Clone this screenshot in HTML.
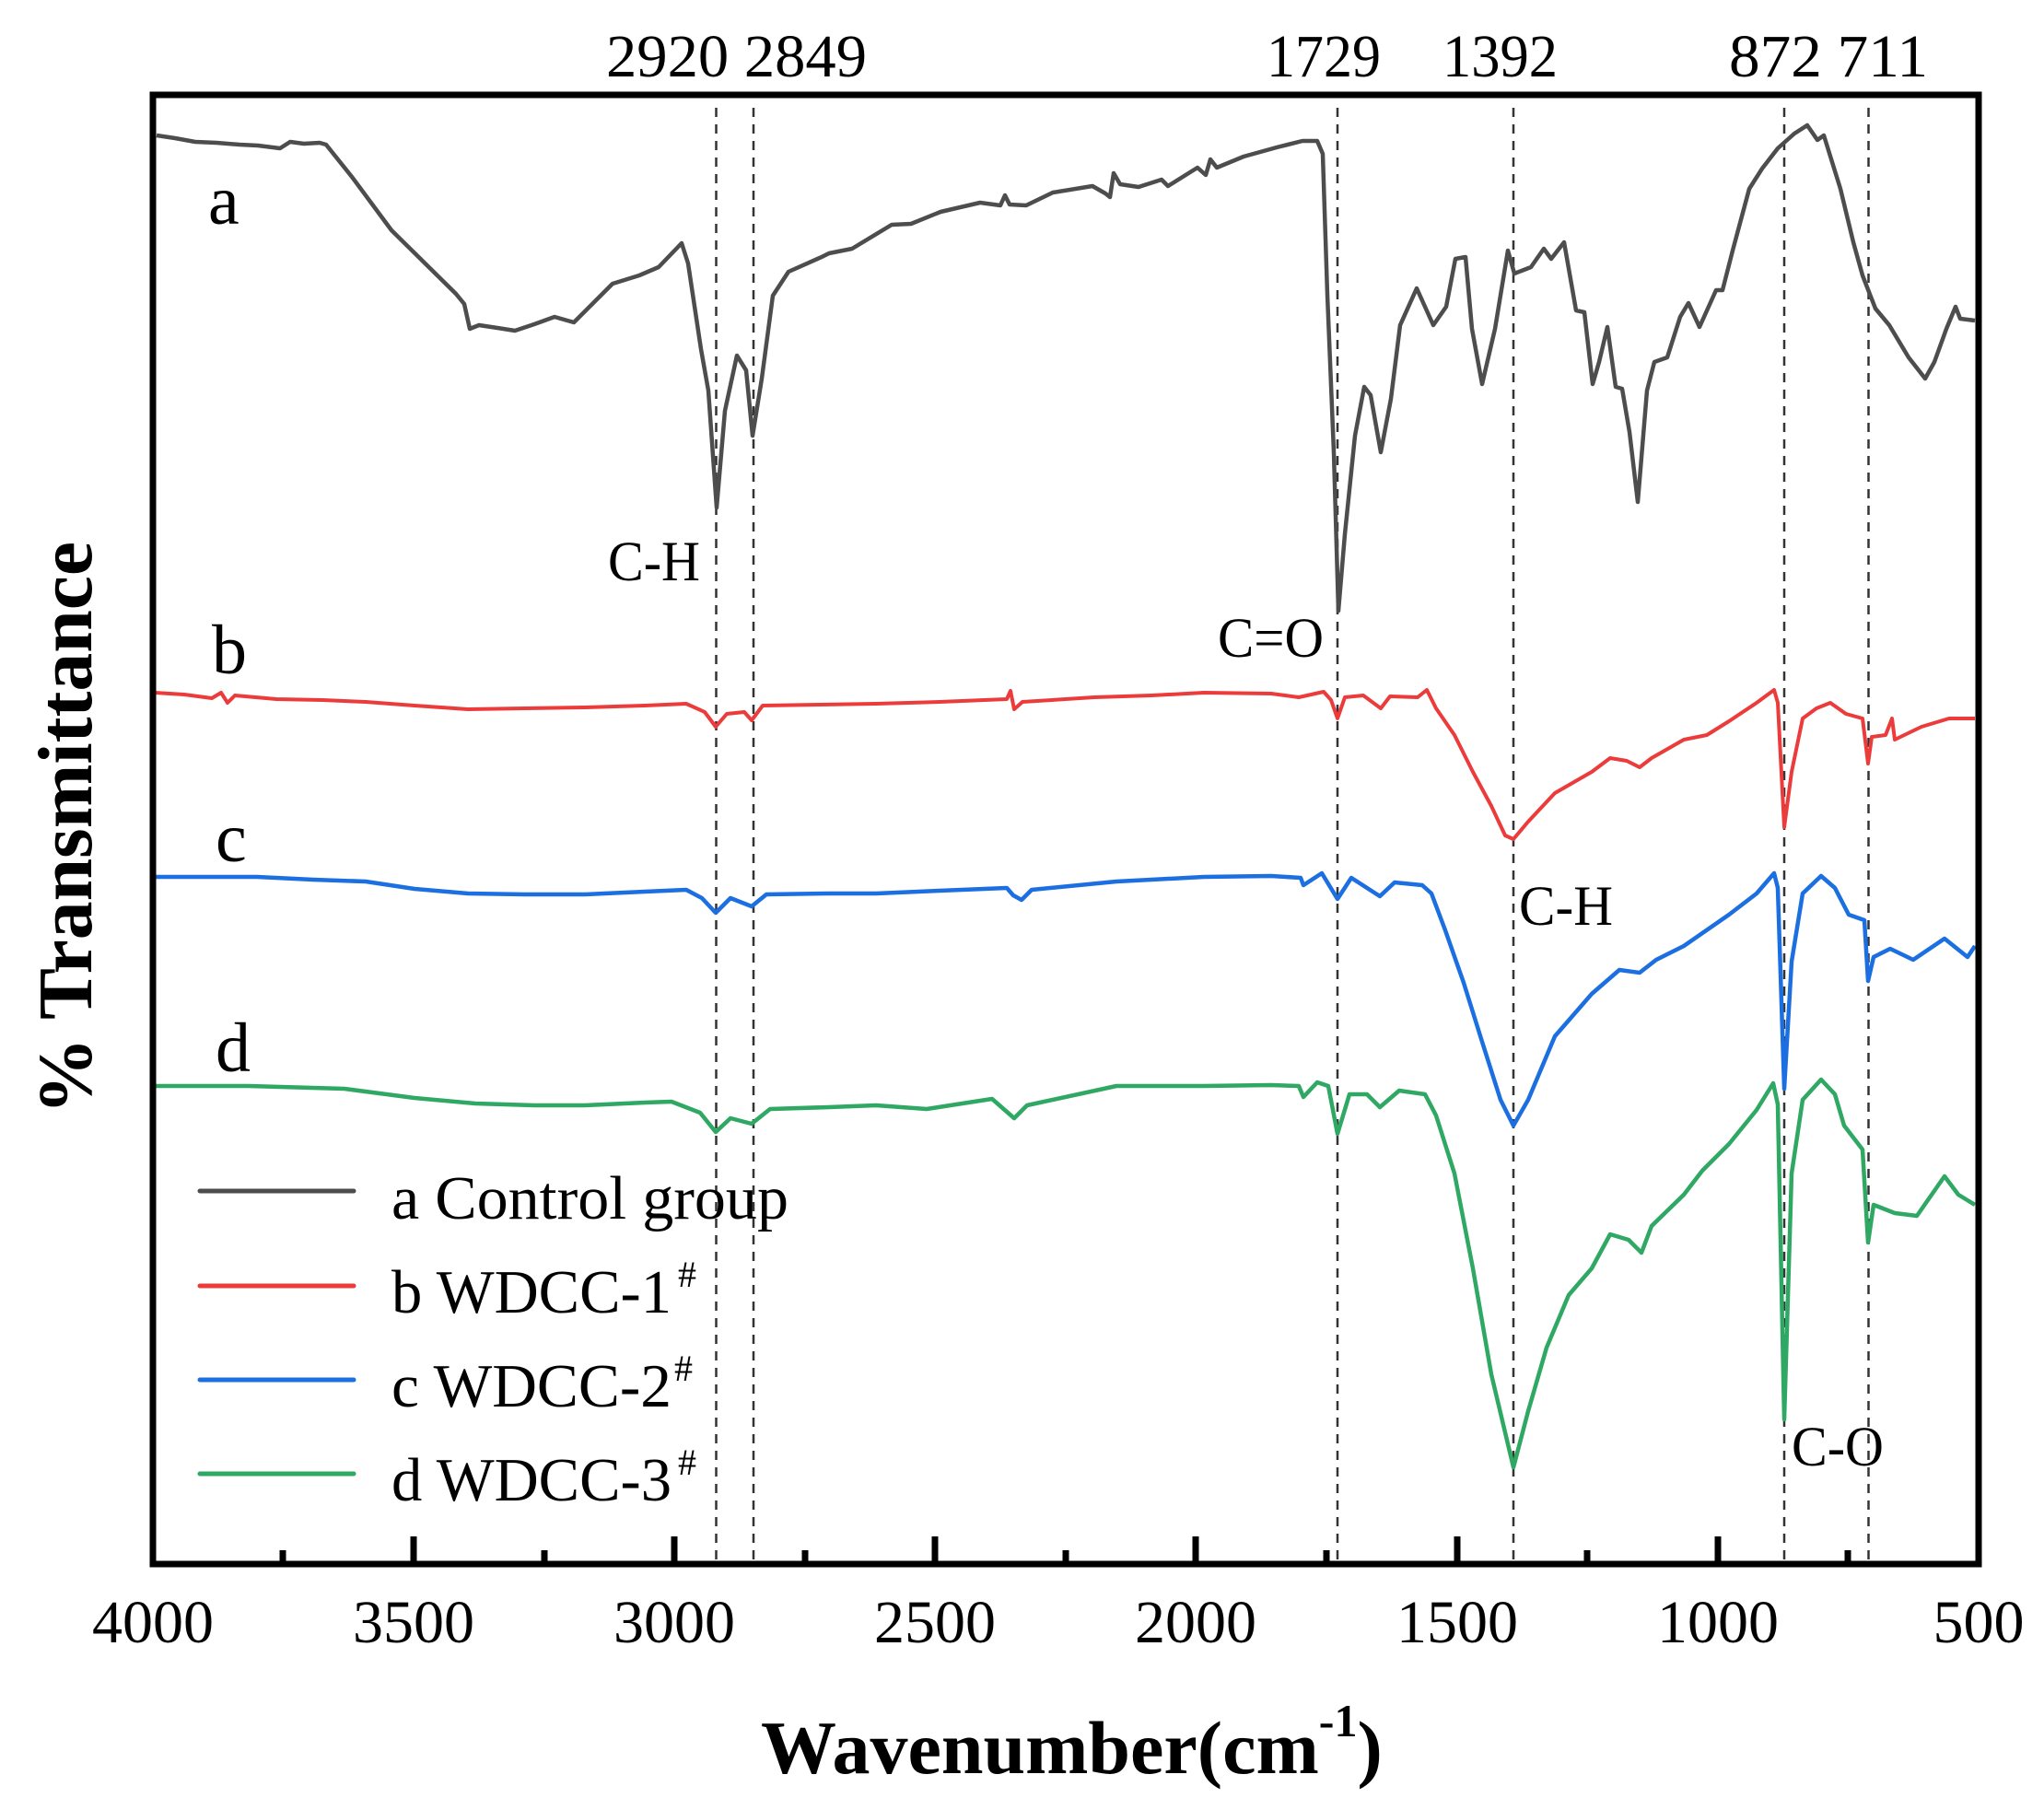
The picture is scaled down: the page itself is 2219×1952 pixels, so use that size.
<!DOCTYPE html>
<html>
<head>
<meta charset="utf-8">
<style>
html,body{margin:0;padding:0;background:#fff;}
svg{display:block;}
text{font-family:"Liberation Serif","Times New Roman",serif;fill:#000;}
</style>
</head>
<body>
<svg width="2219" height="1952" viewBox="0 0 2219 1952" xmlns="http://www.w3.org/2000/svg">
<rect x="0" y="0" width="2219" height="1952" fill="#fff"/>

<!-- dashed reference lines -->
<g stroke="#333" stroke-width="2.5" stroke-dasharray="10,8" fill="none">
<line x1="777.5" y1="117" x2="777.5" y2="1694"/>
<line x1="818" y1="117" x2="818" y2="1694"/>
<line x1="1452" y1="117" x2="1452" y2="1694"/>
<line x1="1643" y1="117" x2="1643" y2="1694"/>
<line x1="1937" y1="117" x2="1937" y2="1694"/>
<line x1="2028.5" y1="117" x2="2028.5" y2="1694"/>
</g>

<!-- curve a -->
<polyline fill="none" stroke="#4d4d4d" stroke-width="4.5" stroke-linejoin="round" points="170,147 190,150 212,154 235,155 260,157 280,158 304,161 315,154 330,156 347,155 354,157 382,192 425,250 495,319 504,330 510,357 520,353 540,356 559,359 580,352 602,344 623,350 665,308 694,299 715,290 740,264 747,286 761,379 769,424 778,551 787,446 800,386 810,402 817,473 827,411 839,321 856,295 892,279 900,275 925,270 968,244 989,243 1021,230 1064,220 1086,223 1091,212 1096,222 1114,223 1143,209 1186,202 1200,210 1205,214 1209,188 1216,200 1236,203 1261,195 1268,202 1300,182 1309,190 1314,173 1321,182 1350,170 1386,160 1414,153 1430,153 1436,167 1441,320 1448,491 1453,663 1460,580 1471,473 1481,420 1488,429 1499,491 1510,433 1520,353 1538,313 1556,353 1570,333 1580,281 1591,279 1598,357 1609,417 1623,357 1637,272 1644,297 1662,290 1676,270 1684,281 1698,263 1711,337 1720,339 1729,417 1736,393 1745,355 1754,420 1761,422 1769,469 1778,545 1788,424 1796,393 1810,388 1824,344 1833,329 1845,355 1863,315 1870,315 1881,272 1899,205 1913,183 1930,161 1948,145 1962,136 1973,152 1980,147 1998,205 2012,263 2022,299 2036,335 2051,353 2072,388 2090,411 2100,393 2113,357 2123,333 2128,346 2144,348"/>

<!-- curve b -->
<polyline fill="none" stroke="#ec3b3b" stroke-width="4" stroke-linejoin="round" points="168,752 200,754 230,758 240,752 247,763 255,755 300,759 350,760 397,762 450,766 508,770 570,769 634,768 700,766 745,764 765,773 777,789 789,775 808,773 816,782 828,766 890,765 951,764 1020,762 1093,759 1097,750 1101,770 1110,762 1188,757 1250,755 1307,752 1380,753 1410,757 1437,751 1445,760 1452,780 1460,757 1480,755 1499,769 1509,756 1539,757 1549,749 1559,769 1579,798 1599,838 1619,875 1634,907 1643,911 1659,892 1688,861 1728,838 1748,823 1766,826 1780,833 1793,823 1828,803 1853,798 1877,783 1907,763 1926,749 1930,763 1937,898 1945,838 1957,780 1972,769 1987,763 2004,775 2022,780 2028,829 2032,800 2047,798 2054,780 2057,803 2086,789 2116,780 2144,780"/>

<!-- curve c -->
<polyline fill="none" stroke="#1c6fe0" stroke-width="4.5" stroke-linejoin="round" points="168,952 279,952 340,955 397,957 450,965 508,970 570,971 634,971 700,968 745,966 762,975 777,991 793,975 816,984 832,971 900,970 951,970 1020,967 1093,964 1100,972 1109,977 1120,966 1212,957 1307,952 1380,951 1412,953 1415,961 1435,948 1452,976 1467,953 1498,973 1514,958 1544,961 1554,970 1569,1010 1589,1067 1609,1131 1629,1194 1643,1222 1659,1194 1688,1125 1728,1079 1758,1053 1780,1056 1798,1042 1828,1027 1877,993 1907,970 1926,948 1930,964 1937,1182 1945,1044 1957,970 1977,951 1992,964 2007,993 2024,999 2028,1065 2034,1039 2052,1030 2077,1042 2111,1019 2136,1039 2144,1027"/>

<!-- curve d -->
<polyline fill="none" stroke="#2ea863" stroke-width="4.5" stroke-linejoin="round" points="168,1179 270,1179 374,1182 450,1192 516,1198 580,1200 634,1200 700,1197 729,1196 760,1208 777,1229 793,1214 816,1220 836,1204 900,1202 951,1200 1006,1204 1077,1193 1101,1214 1115,1200 1212,1179 1307,1179 1380,1178 1410,1179 1415,1191 1430,1175 1442,1179 1452,1231 1465,1188 1484,1188 1498,1202 1519,1184 1547,1188 1559,1211 1579,1274 1599,1377 1619,1492 1643,1593 1659,1532 1679,1463 1703,1406 1728,1377 1748,1340 1768,1346 1782,1360 1793,1331 1828,1297 1848,1271 1877,1242 1907,1205 1925,1176 1930,1199 1937,1541 1945,1274 1957,1194 1977,1172 1992,1188 2002,1222 2022,1248 2028,1349 2034,1308 2057,1317 2081,1320 2111,1277 2126,1297 2144,1308"/>

<!-- frame -->
<rect x="166" y="103" width="1982" height="1595" fill="none" stroke="#000" stroke-width="7"/>

<!-- ticks -->
<g stroke="#000" stroke-width="7">
<line x1="449" y1="1698" x2="449" y2="1668"/>
<line x1="732" y1="1698" x2="732" y2="1668"/>
<line x1="1015" y1="1698" x2="1015" y2="1668"/>
<line x1="1298" y1="1698" x2="1298" y2="1668"/>
<line x1="1582" y1="1698" x2="1582" y2="1668"/>
<line x1="1865" y1="1698" x2="1865" y2="1668"/>
<line x1="307" y1="1698" x2="307" y2="1683"/>
<line x1="591" y1="1698" x2="591" y2="1683"/>
<line x1="874" y1="1698" x2="874" y2="1683"/>
<line x1="1157" y1="1698" x2="1157" y2="1683"/>
<line x1="1440" y1="1698" x2="1440" y2="1683"/>
<line x1="1723" y1="1698" x2="1723" y2="1683"/>
<line x1="2006" y1="1698" x2="2006" y2="1683"/>
</g>

<!-- tick labels -->
<g font-size="66" text-anchor="middle">
<text x="166" y="1783">4000</text>
<text x="449" y="1783">3500</text>
<text x="732" y="1783">3000</text>
<text x="1015" y="1783">2500</text>
<text x="1298" y="1783">2000</text>
<text x="1582" y="1783">1500</text>
<text x="1865" y="1783">1000</text>
<text x="2148" y="1783">500</text>
</g>

<!-- top peak labels -->
<g font-size="66">
<text x="658" y="83" textLength="283" lengthAdjust="spacingAndGlyphs">2920 2849</text>
<text x="1375" y="83" textLength="124" lengthAdjust="spacingAndGlyphs">1729</text>
<text x="1566" y="83" textLength="125" lengthAdjust="spacingAndGlyphs">1392</text>
<text x="1877" y="83" textLength="216" lengthAdjust="spacingAndGlyphs">872 711</text>
</g>

<!-- annotation labels -->
<g font-size="61">
<text x="660" y="630" textLength="100" lengthAdjust="spacingAndGlyphs">C-H</text>
<text x="1322" y="713" textLength="115" lengthAdjust="spacingAndGlyphs">C=O</text>
<text x="1649" y="1004" textLength="102" lengthAdjust="spacingAndGlyphs">C-H</text>
<text x="1945" y="1591" textLength="100" lengthAdjust="spacingAndGlyphs">C-O</text>
</g>

<!-- curve letters -->
<g font-size="76">
<text x="226" y="243">a</text>
<text x="230" y="731">b</text>
<text x="234" y="935">c</text>
<text x="234" y="1163">d</text>
</g>

<!-- legend -->
<g stroke-width="5" stroke-linecap="round">
<line x1="217" y1="1293" x2="384" y2="1293" stroke="#4d4d4d"/>
<line x1="217" y1="1396" x2="384" y2="1396" stroke="#ec3b3b"/>
<line x1="217" y1="1498" x2="384" y2="1498" stroke="#1c6fe0"/>
<line x1="217" y1="1600" x2="384" y2="1600" stroke="#2ea863"/>
</g>
<g font-size="67">
<text x="425" y="1323" textLength="431" lengthAdjust="spacingAndGlyphs">a Control group</text>
<text x="425" y="1425" textLength="304" lengthAdjust="spacingAndGlyphs">b WDCC-1</text>
<text x="425" y="1527" textLength="304" lengthAdjust="spacingAndGlyphs">c WDCC-2</text>
<text x="425" y="1629" textLength="304" lengthAdjust="spacingAndGlyphs">d WDCC-3</text>
<text x="736" y="1397" font-size="40">#</text>
<text x="732" y="1499" font-size="40">#</text>
<text x="736" y="1601" font-size="40">#</text>
</g>

<!-- axis titles -->
<text transform="translate(99,899) rotate(-90)" text-anchor="middle" font-size="84" font-weight="bold" textLength="622" lengthAdjust="spacingAndGlyphs">% Transmittance</text>
<text x="826" y="1925" font-size="82" font-weight="bold">Wavenumber(cm<tspan font-size="50" dy="-40">-1</tspan><tspan dy="40">)</tspan></text>
</svg>
</body>
</html>
